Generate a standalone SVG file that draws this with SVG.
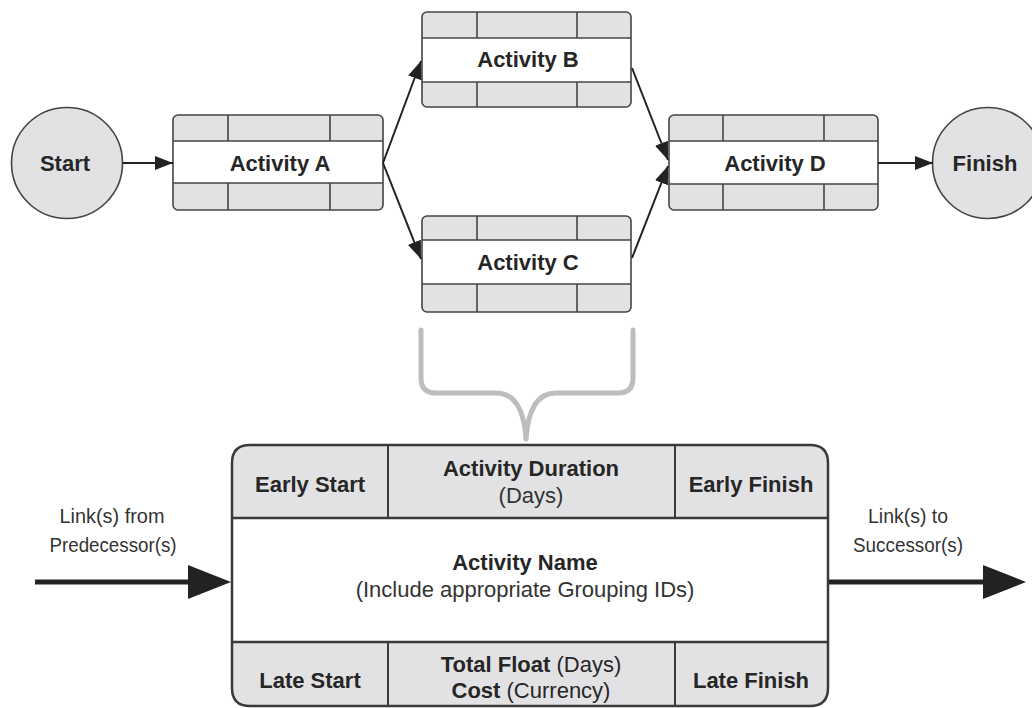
<svg xmlns="http://www.w3.org/2000/svg" width="1032" height="708" viewBox="0 0 1032 708">
<style>
.band{fill:#e2e2e4}
.frame{fill:none;stroke:#444;stroke-width:1.6}
.div{stroke:#444;stroke-width:1.6}
.circ{fill:#e2e2e4;stroke:#444;stroke-width:1.6}
.lbl{font-family:"Liberation Sans",Arial,sans-serif;font-weight:bold;font-size:22px;fill:#262626;text-anchor:middle}
.b{font-family:"Liberation Sans",Arial,sans-serif;font-weight:bold;font-size:22px;fill:#262626;text-anchor:middle}
.r{font-family:"Liberation Sans",Arial,sans-serif;font-size:22px;fill:#333;text-anchor:middle}
.small{font-family:"Liberation Sans",Arial,sans-serif;font-size:20px;fill:#333;text-anchor:middle}
.conn{stroke:#222;stroke-width:2;fill:none}
.big{stroke:#222;stroke-width:5;fill:none}
</style>
<defs>
<marker id="ah" viewBox="0 0 18 14" refX="18" refY="7" markerWidth="18" markerHeight="14" markerUnits="userSpaceOnUse" orient="auto">
<path d="M0,0 L18,7 L0,14 z" fill="#222"/>
</marker>
</defs>

<g id="start">
<circle class="circ" cx="67" cy="163" r="55.5"/>
<text class="lbl" x="65" y="171">Start</text>
</g>

<g id="activity-a">
<rect class="band" x="173" y="115" width="210" height="95" rx="5"/>
<rect x="173" y="141" width="210" height="42" fill="#fff"/>
<rect class="frame" x="173" y="115" width="210" height="95" rx="5"/>
<line class="div" x1="173" y1="141" x2="383" y2="141"/>
<line class="div" x1="173" y1="183" x2="383" y2="183"/>
<line class="div" x1="228" y1="115" x2="228" y2="141"/>
<line class="div" x1="330" y1="115" x2="330" y2="141"/>
<line class="div" x1="228" y1="183" x2="228" y2="210"/>
<line class="div" x1="330" y1="183" x2="330" y2="210"/>
<text class="lbl" x="280" y="171">Activity A</text>
</g>

<g id="activity-b">
<rect class="band" x="422" y="12" width="209" height="95" rx="5"/>
<rect x="422" y="38" width="209" height="44" fill="#fff"/>
<rect class="frame" x="422" y="12" width="209" height="95" rx="5"/>
<line class="div" x1="422" y1="38" x2="631" y2="38"/>
<line class="div" x1="422" y1="82" x2="631" y2="82"/>
<line class="div" x1="477" y1="12" x2="477" y2="38"/>
<line class="div" x1="577" y1="12" x2="577" y2="38"/>
<line class="div" x1="477" y1="82" x2="477" y2="107"/>
<line class="div" x1="577" y1="82" x2="577" y2="107"/>
<text class="lbl" x="528" y="67">Activity B</text>
</g>

<g id="activity-c">
<rect class="band" x="422" y="216" width="209" height="96" rx="5"/>
<rect x="422" y="240" width="209" height="44" fill="#fff"/>
<rect class="frame" x="422" y="216" width="209" height="96" rx="5"/>
<line class="div" x1="422" y1="240" x2="631" y2="240"/>
<line class="div" x1="422" y1="284" x2="631" y2="284"/>
<line class="div" x1="477" y1="216" x2="477" y2="240"/>
<line class="div" x1="577" y1="216" x2="577" y2="240"/>
<line class="div" x1="477" y1="284" x2="477" y2="312"/>
<line class="div" x1="577" y1="284" x2="577" y2="312"/>
<text class="lbl" x="528" y="270">Activity C</text>
</g>

<g id="activity-d">
<rect class="band" x="669" y="115" width="209" height="95" rx="5"/>
<rect x="669" y="141" width="209" height="43" fill="#fff"/>
<rect class="frame" x="669" y="115" width="209" height="95" rx="5"/>
<line class="div" x1="669" y1="141" x2="878" y2="141"/>
<line class="div" x1="669" y1="184" x2="878" y2="184"/>
<line class="div" x1="723" y1="115" x2="723" y2="141"/>
<line class="div" x1="824" y1="115" x2="824" y2="141"/>
<line class="div" x1="723" y1="184" x2="723" y2="210"/>
<line class="div" x1="824" y1="184" x2="824" y2="210"/>
<text class="lbl" x="775" y="171">Activity D</text>
</g>

<g id="finish">
<circle class="circ" cx="988" cy="163" r="55.5"/>
<text class="lbl" x="985" y="171">Finish</text>
</g>

<g id="connectors">
<line class="conn" x1="123" y1="163" x2="173" y2="163" marker-end="url(#ah)"/>
<line class="conn" x1="383" y1="163" x2="421" y2="61" marker-end="url(#ah)"/>
<line class="conn" x1="383" y1="163" x2="421" y2="259" marker-end="url(#ah)"/>
<line class="conn" x1="632" y1="68" x2="668" y2="160" marker-end="url(#ah)"/>
<line class="conn" x1="632" y1="258" x2="668" y2="166" marker-end="url(#ah)"/>
<line class="conn" x1="878" y1="163" x2="933" y2="163" marker-end="url(#ah)"/>
<line class="big" x1="35" y1="582" x2="192" y2="582"/>
<polygon points="188,565 231,582 188,599" fill="#222"/>
<line class="big" x1="828" y1="582" x2="986" y2="582"/>
<polygon points="983,565 1026,582 983,599" fill="#222"/>
</g>

<g id="brace">
<path d="M421,330 L421,378 Q421,393 436,393 L496,393 Q523,393 526,439 Q529,393 556,393 L618,393 Q633,393 633,378 L633,330" fill="none" stroke="#bdbdc0" stroke-width="5" stroke-linecap="round" stroke-linejoin="round"/>
</g>

<g id="legend-labels">
<text class="small" x="112" y="523" textLength="105" lengthAdjust="spacingAndGlyphs">Link(s) from</text>
<text class="small" x="113" y="552" textLength="127" lengthAdjust="spacingAndGlyphs">Predecessor(s)</text>
<text class="small" x="908" y="523" textLength="80" lengthAdjust="spacingAndGlyphs">Link(s) to</text>
<text class="small" x="908" y="552" textLength="110" lengthAdjust="spacingAndGlyphs">Successor(s)</text>
</g>

<g id="activity-template">
<path class="band" d="M250,445 H810 Q828,445 828,463 V688 Q828,706 810,706 H250 Q232,706 232,688 V463 Q232,445 250,445 Z"/>
<rect x="232" y="518" width="596" height="124" fill="#fff"/>
<path d="M250,445 H810 Q828,445 828,463 V688 Q828,706 810,706 H250 Q232,706 232,688 V463 Q232,445 250,445 Z" fill="none" stroke="#3a3a3a" stroke-width="2.5"/>
<line x1="232" y1="518" x2="828" y2="518" stroke="#3a3a3a" stroke-width="2.5"/>
<line x1="232" y1="642" x2="828" y2="642" stroke="#3a3a3a" stroke-width="2.5"/>
<line x1="388" y1="445" x2="388" y2="518" stroke="#3a3a3a" stroke-width="2"/>
<line x1="675" y1="445" x2="675" y2="518" stroke="#3a3a3a" stroke-width="2"/>
<line x1="388" y1="642" x2="388" y2="706" stroke="#3a3a3a" stroke-width="2"/>
<line x1="675" y1="642" x2="675" y2="706" stroke="#3a3a3a" stroke-width="2"/>
<text class="b" x="310" y="492">Early Start</text>
<text class="b" x="531" y="476">Activity Duration</text>
<text class="r" x="531" y="503">(Days)</text>
<text class="b" x="751" y="492">Early Finish</text>
<text class="b" x="525" y="570">Activity Name</text>
<text class="r" x="525" y="597" font-size="23">(Include appropriate Grouping IDs)</text>
<text class="b" x="310" y="688">Late Start</text>
<text class="b" x="531" y="672">Total Float <tspan font-weight="normal">(Days)</tspan></text>
<text class="b" x="531" y="698">Cost <tspan font-weight="normal">(Currency)</tspan></text>
<text class="b" x="751" y="688">Late Finish</text>
</g>
</svg>
